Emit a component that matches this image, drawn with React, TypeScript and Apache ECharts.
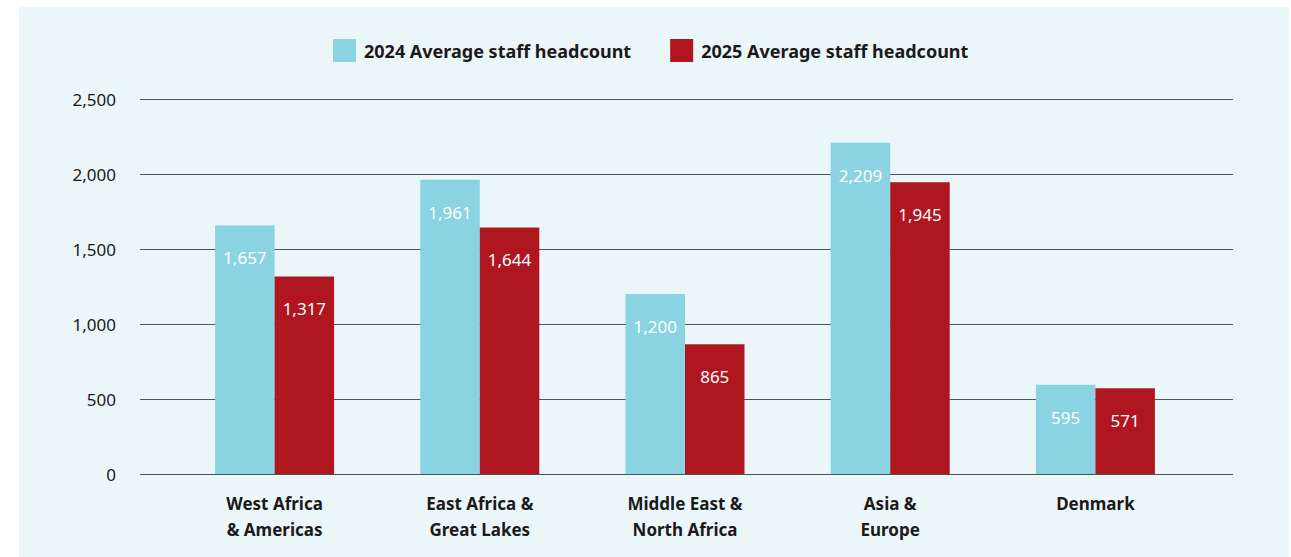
import React, { useEffect, useRef } from "react";
import * as echarts from "echarts";

const categories = [
  "West Africa\n& Americas",
  "East Africa &\nGreat Lakes",
  "Middle East &\nNorth Africa",
  "Asia &\nEurope",
  "Denmark",
];
const series2024 = [1657, 1961, 1200, 2209, 595];
const series2025 = [1317, 1644, 865, 1945, 571];
const seriesNames = ["2024 Average staff headcount", "2025 Average staff headcount"];
const yTicks = { min: 0, max: 2500, interval: 500 };

const FONT = "'Noto Sans', 'Open Sans', sans-serif";
const fmt = (v: number) => v.toLocaleString("en-US");

export default function App() {
  const ref = useRef<HTMLDivElement>(null);
  useEffect(() => {
    if (!ref.current) return;
    const chart = echarts.init(ref.current, null, { renderer: "svg" });
    const label = {
      show: true,
      position: "insideTop",
      distance: 24,
      color: "#ffffff",
      fontFamily: FONT,
      fontSize: 17,
      formatter: (p: any) => fmt(p.value),
    };
    chart.setOption({
      animation: false,
      backgroundColor: "#ffffff",
      graphic: [
        {
          type: "rect",
          z: -10,
          silent: true,
          shape: { x: 19, y: 7, width: 1270, height: 550 },
          style: { fill: "#ebf6f8" },
        },
      ],
      legend: {
        left: 328,
        top: 34,
        itemWidth: 23,
        itemHeight: 23,
        itemGap: 39,
        icon: "rect",
        textStyle: { fontFamily: FONT, fontSize: 18, fontWeight: "bold", color: "#1a1a1a", padding: [0, 0, 0, 3] },
        data: seriesNames,
      },
      grid: [
        { left: 140, right: 58, top: 99, bottom: 83 },
        { left: 172, right: 93, top: 99, bottom: 83 },
      ],
      xAxis: [
        { gridIndex: 0, type: "category", data: categories, show: false },
        {
          gridIndex: 1,
          type: "category",
          data: categories,
          axisLine: { show: false },
          axisTick: { show: false },
          axisLabel: {
            margin: 16,
            fontFamily: FONT,
            fontSize: 17,
            fontWeight: "bold",
            color: "#1a1a1a",
            lineHeight: 26,
          },
        },
      ],
      yAxis: [
        {
          gridIndex: 0,
          type: "value",
          ...yTicks,
          axisLine: { show: false },
          axisTick: { show: false },
          axisLabel: {
            margin: 24,
            fontFamily: FONT,
            fontSize: 17,
            color: "#1a1a1a",
            formatter: (v: number) => fmt(v),
          },
          splitLine: { lineStyle: { color: "#4f5659", width: 1 } },
        },
        { gridIndex: 1, type: "value", ...yTicks, show: false, splitLine: { show: false } },
      ],
      series: [
        {
          name: seriesNames[0],
          type: "bar",
          xAxisIndex: 1,
          yAxisIndex: 1,
          data: series2024,
          barWidth: 59.5,
          barGap: "0%",
          itemStyle: { color: "#89d3e2" },
          label,
        },
        {
          name: seriesNames[1],
          type: "bar",
          xAxisIndex: 1,
          yAxisIndex: 1,
          data: series2025,
          barWidth: 59.5,
          barGap: "0%",
          itemStyle: { color: "#b0161f" },
          label,
        },
      ],
    });
    return () => chart.dispose();
  }, []);
  return (
    <div
      ref={ref}
      style={{ position: "absolute", left: 0, top: 0, width: 1291, height: 557 }}
    />
  );
}
